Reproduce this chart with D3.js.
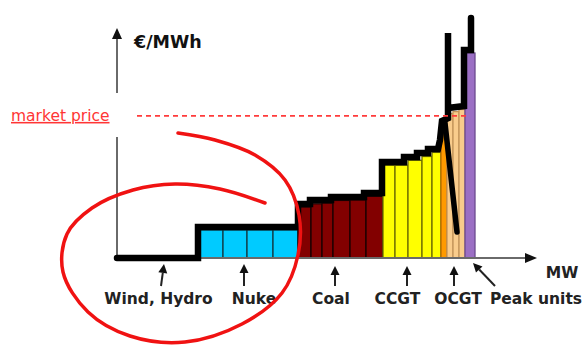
<!DOCTYPE html>
<html><head><meta charset="utf-8">
<script src="https://cdn.jsdelivr.net/npm/d3@7"></script>
<style>
html,body{margin:0;padding:0;background:#fff;}
svg{display:block;}
</style></head><body>
<svg id="chart" width="586" height="345"></svg>
<script>
// ---------- data ----------
const groupNames = ["Wind, Hydro", "Nuke", "Coal", "CCGT", "OCGT", "Peak units"];
const windCap   = [82];
const windPrice = [0];
const nukeCap   = [24, 24, 26, 25];
const nukePrice = [11.7, 11.7, 11.7, 11.7];
const coalCap   = [13, 11, 11, 17, 16, 17];
const coalPrice = [21.3, 22.6, 22.9, 24.0, 24.2, 25.7];
const ccgtCap   = [12, 13, 14, 10, 9];
const ccgtPrice = [38.6, 38.6, 40.7, 42.3, 44.0];
const ocgtCap   = [6, 6, 6, 6];
const ocgtPrice = [56.7, 60.2, 61.0, 61.9];
const peakCap   = [10];
const peakPrice = [85.4];
// merit-order supply curve outline [MW, €/MWh]
const supplyCurve = [
  [0, 0], [81, 0], [81, 12.9], [181, 12.9], [181, 22.5], [193, 22.5],
  [193, 24.2], [214, 24.2], [214, 25.4], [247, 25.4], [247, 27.1], [265, 27.1],
  [265, 40], [287, 40], [287, 42.1], [300, 42.1], [300, 43.75], [311, 43.75],
  [311, 45.4], [321, 45.4], [323, 49.2], [325, 57.1], [331, 58.3], [331, 93.75],
  [331, 62.5], [347, 63.3], [347, 86.7], [354, 86.7], [354, 100]
];
const strayStroke = [[328, 56.2], [340, 10.8]];
const marketPrice = 59.2;
const yAxisLabel = "€/MWh";
const xAxisLabel = "MW";
const priceLabel = "market price";

// ---------- scales ----------
const x = d3.scaleLinear().domain([0, 420]).range([117, 537]);
const y = d3.scaleLinear().domain([0, 100]).range([258, 18]);

const svg = d3.select("#chart");

// ---------- bars ----------
const groupCaps = [windCap, nukeCap, coalCap, ccgtCap, ocgtCap, peakCap];
const groupPrices = [windPrice, nukePrice, coalPrice, ccgtPrice, ocgtPrice, peakPrice];
const fills = {
  "Wind, Hydro": () => "none",
  "Nuke": () => "#00cbff",
  "Coal": () => "#820000",
  "CCGT": () => "#ffff00",
  "OCGT": i => i === 0 ? "#ff9a00" : "#f9cc8c",
  "Peak units": () => "#9b6fc4"
};
const strokes = {
  "Wind, Hydro": () => "none",
  "Nuke": () => "#123c48",
  "Coal": () => "#1a0000",
  "CCGT": () => "#6e6e00",
  "OCGT": i => i === 0 ? "#b86a00" : "#c4955a",
  "Peak units": () => "#6c4a90"
};
const bars = [];
let cum = 0;
groupNames.forEach((g, gi) => {
  groupCaps[gi].forEach((c, i) => {
    bars.push({group: g, i, x0: cum, x1: cum + c, price: groupPrices[gi][i]});
    cum += c;
  });
});
svg.append("g").selectAll("rect").data(bars.filter(b => b.price > 0)).join("rect")
  .attr("x", d => x(d.x0))
  .attr("width", d => x(d.x1) - x(d.x0))
  .attr("y", d => y(d.price))
  .attr("height", d => y(0) - y(d.price))
  .attr("fill", d => fills[d.group](d.i))
  .attr("stroke", d => strokes[d.group](d.i))
  .attr("stroke-width", 1.3);

// ---------- axes ----------
const axisColor = "#6a6a6a";
svg.append("line").attr("x1", x(0)).attr("x2", x(0)).attr("y1", y(0)).attr("y2", 137)
  .attr("stroke", axisColor).attr("stroke-width", 2);
svg.append("line").attr("x1", x(0)).attr("x2", x(0)).attr("y1", 93).attr("y2", 36)
  .attr("stroke", axisColor).attr("stroke-width", 2);
svg.append("path").attr("d", `M${x(0)},28 L${x(0)-5},39 L${x(0)+5},39 Z`).attr("fill", "#111");
svg.append("line").attr("x1", x(0)).attr("x2", 527).attr("y1", y(0)).attr("y2", y(0))
  .attr("stroke", axisColor).attr("stroke-width", 2);
svg.append("path").attr("d", `M537,${y(0)} L525,${y(0)-5} L525,${y(0)+5} Z`).attr("fill", "#111");

// ---------- supply curve ----------
const line = d3.line().x(d => x(d[0])).y(d => y(d[1]));
svg.append("path").datum(supplyCurve).attr("d", line)
  .attr("fill", "none").attr("stroke", "#000").attr("stroke-width", 6.5)
  .attr("stroke-linejoin", "miter").attr("stroke-linecap", "round");
svg.append("path").datum(strayStroke).attr("d", line)
  .attr("fill", "none").attr("stroke", "#000").attr("stroke-width", 5.5)
  .attr("stroke-linecap", "round");

// ---------- market price ----------
svg.append("line").attr("x1", 137).attr("x2", x(352)).attr("y1", y(marketPrice)).attr("y2", y(marketPrice))
  .attr("stroke", "#ff3b3b").attr("stroke-width", 1.6).attr("stroke-dasharray", "5,4");
svg.append("text").attr("x", 11).attr("y", y(marketPrice) + 5)
  .attr("font-family", "DejaVu Sans").attr("font-size", 15.5)
  .attr("fill", "#ff3535").attr("text-decoration", "underline")
  .text(priceLabel);

// ---------- axis labels ----------
svg.append("text").attr("x", 134).attr("y", 48)
  .attr("font-family", "DejaVu Sans").attr("font-weight", "bold").attr("font-size", 17.5)
  .attr("fill", "#111").text(yAxisLabel);
svg.append("text").attr("x", 562).attr("y", 278).attr("text-anchor", "middle")
  .attr("font-family", "DejaVu Sans").attr("font-weight", "bold").attr("font-size", 15.5)
  .attr("fill", "#222").text(xAxisLabel);

// ---------- category labels with arrows ----------
const labelLayout = [
  {ax1: 161, ay1: 286, ax2: 164, ay2: 264, tx: 158.5},
  {ax1: 244, ay1: 286, ax2: 244, ay2: 264, tx: 254},
  {ax1: 335, ay1: 286, ax2: 335, ay2: 266, tx: 331},
  {ax1: 407, ay1: 286, ax2: 407, ay2: 266, tx: 397.5},
  {ax1: 454, ay1: 286, ax2: 454, ay2: 266, tx: 458},
  {ax1: 495, ay1: 286, ax2: 473, ay2: 263, tx: 536}
];
const lg = svg.append("g");
groupNames.forEach((name, i) => {
  const L = labelLayout[i];
  const ang = Math.atan2(L.ay2 - L.ay1, L.ax2 - L.ax1);
  const hl = 9, hw = 4.5;
  const bx = L.ax2 - hl * Math.cos(ang), by = L.ay2 - hl * Math.sin(ang);
  const px = -Math.sin(ang), py = Math.cos(ang);
  lg.append("line").attr("x1", L.ax1).attr("y1", L.ay1).attr("x2", bx).attr("y2", by)
    .attr("stroke", "#222").attr("stroke-width", 2);
  lg.append("path")
    .attr("d", `M${L.ax2},${L.ay2} L${bx + px*hw},${by + py*hw} L${bx - px*hw},${by - py*hw} Z`)
    .attr("fill", "#111");
  lg.append("text").attr("x", L.tx).attr("y", 304).attr("text-anchor", "middle")
    .attr("font-family", "DejaVu Sans").attr("font-weight", "bold").attr("font-size", 15.5)
    .attr("fill", "#222").text(name);
});

// ---------- red hand-drawn ellipse ----------
const loop = [[178,133],[215,140],[255,155],[285,180],[299,215],[298,255],[282,293],[242,324],
  [185,342],[130,336],[88,312],[63,272],[67,234],[92,208],[133,190],[175,184],[220,189],[265,203]];
svg.append("path").datum(loop)
  .attr("d", d3.line().curve(d3.curveCatmullRom.alpha(0.5)))
  .attr("fill", "none").attr("stroke", "#f01212").attr("stroke-width", 3.5)
  .attr("stroke-linecap", "round");
</script>
</body></html>
